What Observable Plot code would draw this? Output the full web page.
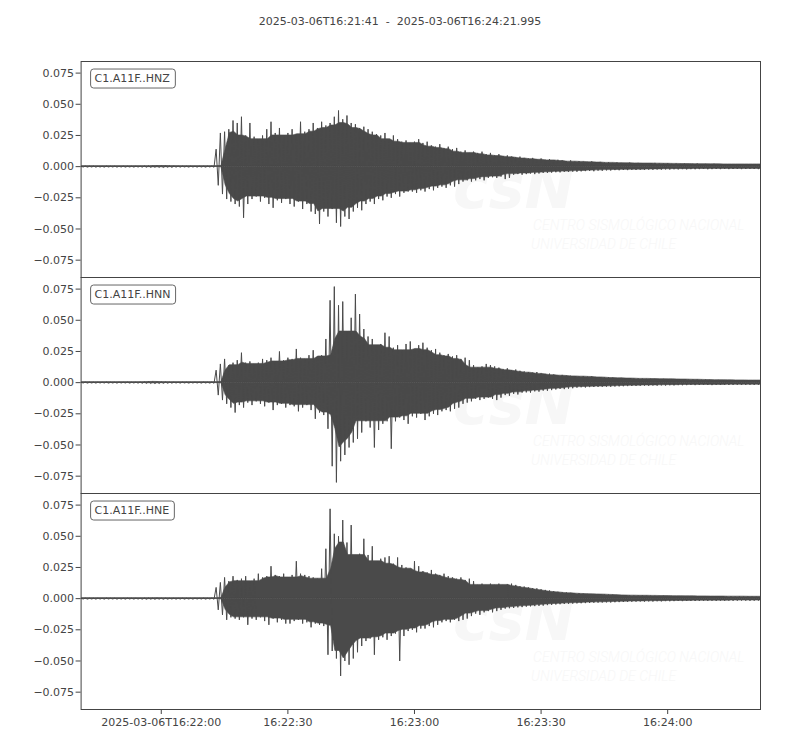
<!DOCTYPE html>
<html>
<head>
<meta charset="utf-8">
<script src="https://cdn.jsdelivr.net/npm/d3@7"></script>
<script src="https://cdn.jsdelivr.net/npm/@observablehq/plot@0.6"></script>
<style>
  body { margin: 0; background: #fff; font-family: "DejaVu Sans", sans-serif; }
  #title { width: 800px; height: 40px; line-height: 44px; text-align: center; font-size: 11px; color: #444; white-space: pre; }
  #chart { width: 800px; }
</style>
</head>
<body>
<div id="title"></div>
<div id="chart"></div>
<script>
// ---------------- data ----------------
const titleText = "2025-03-06T16:21:41  -  2025-03-06T16:24:21.995";
const startTime = "2025-03-06T16:21:41Z";
const endTime = "2025-03-06T16:24:21.995Z";
const netCode = "C1", staCode = "A11F", locCode = "";
const channels = ["HNZ", "HNN", "HNE"];
const valueUnit = 0.001; // arrays below are in thousandths (m/s)
// per-second upper (hi) and lower (lo) peak of each trace, t = 0 .. 161 s
const hnzHi = [0.3,0.4,0.3,0.4,0.3,0.3,0.4,0.3,0.4,0.3,0.4,0.3,0.3,0.4,0.3,0.5,0.6,0.5,0.7,0.6,0.5,0.6,0.5,0.4,0.4,0.3,0.4,0.3,0.4,0.3,0.4,0.5,
  14,27,28,30,37,35,40,25,35,24,22,25,30,36,27,31,25,27,30,26,36,28,30,35,31,36,33,35,40,45,38,41,35,34,31,32,30,28,26,25,27,22,25,22,20,21,19,20,22,
  19,20,17,16,18,15,16,14,15,12,13,11,12,11,12,10,11,9,10,8.5,9,8,7.5,8,7,6.5,7,6,6.5,5.5,6,5,5.5,5,4.5,5,4,4.5,4,3.8,4.2,3.5,3.8,3.3,3.5,3,3.4,3,2.8,3.2,2.7,3,2.6,2.8,2.5,3,2.5,2.4,2.7,2.3,2.5,2.2,2.4,2.1,2.3,2.5,2,2.2,2,2.3,1.9,2.1,2,1.8,2.1,1.9,2,1.8,2,1.9,1.8];
const hnzLo = [-0.3,-0.4,-0.3,-0.4,-0.3,-0.4,-0.3,-0.3,-0.4,-0.3,-0.4,-0.3,-0.4,-0.3,-0.4,-0.5,-0.6,-0.5,-0.6,-0.7,-0.5,-0.6,-0.4,-0.4,-0.3,-0.4,-0.3,-0.4,-0.3,-0.4,-0.3,-0.5,
  -15,-22,-26,-28,-30,-32,-41,-30,-26,-24,-28,-25,-30,-33,-27,-29,-26,-30,-32,-28,-34,-30,-36,-38,-46,-36,-40,-34,-45,-48,-40,-42,-36,-33,-35,-30,-28,-30,-26,-27,-24,-25,-22,-24,-21,-20,-20,-21,-19,
  -20,-18,-19,-17,-16,-17,-15,-16,-14,-12,-11,-12,-11,-10,-11,-9,-8.5,-9,-8,-10,-9,-6.5,-6,-6.5,-6,-5.5,-6,-5.5,-5,-5,-4.8,-4.5,-4.6,-4.2,-4.3,-4,-4.1,-3.8,-3.6,-3.5,-3.7,-3.2,-3.3,-3,-3.1,-2.8,-2.9,-2.7,-2.8,-2.6,-2.7,-2.5,-2.6,-2.4,-2.5,-2.3,-2.4,-2.2,-2.3,-2.1,-2.2,-2,-2.2,-2,-2.1,-2,-1.9,-2.1,-2,-1.9,-2,-1.8,-2,-1.9,-1.8,-2,-1.9,-1.8,-1.9,-2,-1.8];
const hnnHi = [0.3,0.4,0.3,0.3,0.4,0.3,0.4,0.3,0.3,0.4,0.3,0.4,0.3,0.4,0.5,0.6,0.7,0.8,0.7,0.6,0.5,0.4,0.4,0.3,0.4,0.3,0.3,0.4,0.3,0.4,0.3,0.5,
  10,15,19,14,16,18,24,16,17,15,16,19,18,20,17,25,18,20,19,27,20,19,22,26,21,22,35,66,77,62,65,41,52,71,55,43,37,35,30,31,40,37,28,30,26,31,33,27,30,
  32,28,26,27,24,22,23,21,22,19,20,18,14,12,13,15,14,13,12,11,11.5,10,10.5,9.5,9,8.5,8,8.5,7.5,7,7.2,6.5,6,6.2,5.6,5.5,5.3,5,5.2,4.8,5,4.6,4.5,4.2,4.3,4,3.7,3.8,3.5,3.6,3.3,3.4,3.2,3,3.1,3,2.9,3,2.8,2.9,2.7,2.8,2.6,2.5,2.6,2.4,2.3,2.4,2.2,2.1,2.2,2,2.1,2,1.9,2,1.8,1.9,1.8,1.7,1.8];
const hnnLo = [-0.3,-0.4,-0.3,-0.4,-0.3,-0.3,-0.4,-0.3,-0.4,-0.3,-0.3,-0.4,-0.3,-0.4,-0.5,-0.6,-0.7,-0.8,-0.7,-0.6,-0.5,-0.4,-0.3,-0.4,-0.3,-0.4,-0.3,-0.3,-0.4,-0.3,-0.4,-0.5,
  -10,-14,-17,-20,-24,-18,-20,-16,-18,-15,-17,-19,-16,-22,-18,-17,-20,-18,-19,-23,-20,-18,-22,-29,-24,-26,-37,-67,-80,-63,-58,-52,-48,-45,-40,-31,-36,-52,-38,-33,-31,-53,-31,-28,-30,-33,-27,-28,-25,
  -30,-27,-25,-26,-23,-22,-23,-21,-20,-17,-16,-15,-13,-14,-13,-12,-13,-14,-12,-10,-10.5,-9,-9.5,-8,-7.8,-8,-7,-7.2,-6.4,-6.5,-6,-5.5,-5,-5.2,-4.8,-4.5,-4,-3.7,-3.9,-3.6,-3.5,-3.4,-3.3,-3.2,-3.3,-3.1,-3,-2.9,-2.8,-2.7,-2.6,-2.5,-2.4,-2.5,-2.3,-2.4,-2.2,-2.3,-2.1,-2.2,-2,-2.1,-2,-1.9,-2,-1.9,-1.8,-1.9,-2,-1.8,-1.9,-1.8,-1.9,-1.8,-1.7,-1.9,-1.8,-1.7,-1.8,-1.7,-1.8];
const hneHi = [0.3,0.4,0.3,0.3,0.4,0.3,0.4,0.3,0.4,0.3,0.3,0.4,0.3,0.4,0.3,0.4,0.5,0.4,0.5,0.4,0.4,0.3,0.4,0.3,0.4,0.3,0.3,0.4,0.3,0.4,0.3,0.5,
  9,13,17,14,18,15,16,18,14,16,20,17,18,26,19,18,20,17,19,30,20,19,18,17,16,24,40,72,52,50,63,45,59,35,36,48,35,42,30,32,33,34,28,33,27,25,24,30,26,
  22,21,23,20,19,20,18,17,16,17,15,16,14,11,12,11,12,11,12,11,11.5,12,11,10,9.7,9,8.5,8.2,7.5,7,6.5,6,5.5,5.2,5,4.6,4.3,4.5,4,3.8,3.7,3.6,3.5,3.4,3.3,3.2,3,2.9,2.8,2.6,2.5,2.4,2.5,2.3,2.4,2.3,2.2,2.3,2.1,2.2,2.1,2,2.1,2,1.9,2,1.9,1.8,1.9,1.8,1.7,1.8,1.7,1.8,1.6,1.7,1.6,1.7,1.6,1.5,1.6];
const hneLo = [-0.3,-0.4,-0.3,-0.4,-0.3,-0.4,-0.3,-0.3,-0.4,-0.3,-0.4,-0.3,-0.4,-0.3,-0.4,-0.5,-0.4,-0.5,-0.4,-0.5,-0.4,-0.3,-0.4,-0.3,-0.4,-0.3,-0.4,-0.3,-0.3,-0.4,-0.3,-0.5,
  -9,-13,-17,-15,-16,-17,-15,-21,-16,-17,-15,-18,-21,-16,-19,-17,-20,-20,-18,-17,-20,-19,-23,-20,-21,-22,-45,-42,-48,-62,-50,-53,-48,-43,-38,-34,-32,-45,-33,-31,-33,-30,-28,-50,-30,-26,-25,-27,-24,
  -24,-22,-23,-21,-19,-18,-19,-17,-18,-17,-16,-14,-12,-13,-11,-10,-11,-10,-9,-8,-7.7,-7.5,-7,-6.8,-6.4,-6.2,-6,-5.8,-5.6,-5.2,-5,-4.7,-4.5,-4.3,-4.2,-4,-3.8,-3.7,-3.6,-3.5,-3.3,-3.2,-3.1,-3,-3.1,-2.9,-2.8,-2.7,-2.6,-2.5,-2.4,-2.3,-2.4,-2.2,-2.3,-2.1,-2.2,-2,-2.1,-2,-1.9,-2,-1.9,-1.8,-1.9,-1.8,-1.7,-1.8,-1.7,-1.8,-1.6,-1.7,-1.6,-1.7,-1.6,-1.5,-1.6,-1.7,-1.6,-1.5,-1.6];
const yDomain = [-0.0889, 0.0843];
const yTicks = [-0.075, -0.05, -0.025, 0, 0.025, 0.05, 0.075];
const xTickTimes = ["2025-03-06T16:22:00Z", "2025-03-06T16:22:30Z", "2025-03-06T16:23:00Z", "2025-03-06T16:23:30Z", "2025-03-06T16:24:00Z"];
const xTickLabels = ["2025-03-06T16:22:00", "16:22:30", "16:23:00", "16:23:30", "16:24:00"];
const watermarkTitle = "csN";
const watermarkLine1 = "CENTRO SISMOLÓGICO NACIONAL";
const watermarkLine2 = "UNIVERSIDAD DE CHILE";

// ---------------- build ----------------
document.getElementById("title").textContent = titleText;
const t0 = new Date(startTime).getTime();
const traces = { HNZ: [hnzHi, hnzLo], HNN: [hnnHi, hnnLo], HNE: [hneHi, hneLo] };
const samples = [];   // alternating peak / trough, drawn as the trace line
const perSecond = []; // per-second peaks, used for the filled core of the trace
for (const ch of channels) {
  const [hi, lo] = traces[ch];
  hi.forEach((h, i) => {
    samples.push({ ch, t: new Date(t0 + i * 1000), v: h * valueUnit });
    samples.push({ ch, t: new Date(t0 + (i + 0.5) * 1000), v: lo[i] * valueUnit });
    perSecond.push({ ch, t: new Date(t0 + (i + 0.25) * 1000), hi: h * valueUnit, lo: lo[i] * valueUnit, zero: 0 });
  });
}
const xTicks = xTickTimes.map(d => new Date(d));
const xLabelMap = new Map(xTicks.map((d, i) => [+d, xTickLabels[i]]));
const traceId = ch => `${netCode}.${staCode}.${locCode}.${ch}`;
const wm = "#f7f7f7";
const ink = "#4a4a4a";

const plot = Plot.plot({
  width: 800,
  height: 710,
  marginTop: 20,
  marginBottom: 40,
  marginLeft: 80.6,
  marginRight: 40,
  style: { fontFamily: "DejaVu Sans, sans-serif", fontSize: "11px", color: "#444", background: "#fff" },
  fy: { domain: channels, padding: 0, axis: null, label: null },
  x: {
    type: "utc",
    domain: [new Date(startTime), new Date(endTime)],
    ticks: xTicks,
    tickFormat: d => xLabelMap.get(+d),
    tickSize: 5, tickPadding: 4, label: null
  },
  y: {
    domain: yDomain,
    ticks: yTicks,
    tickFormat: d => (d < 0 ? "\u2212" : "") + Math.abs(d).toFixed(3),
    tickSize: 5, tickPadding: 2, label: null
  },
  marks: [
    Plot.text(channels, { fy: d => d, text: () => watermarkTitle, frameAnchor: "top-left", dx: 372, dy: 146, textAnchor: "start", lineAnchor: "bottom", fontSize: 60, fontWeight: "bold", fontStyle: "italic", fill: wm }),
    Plot.text(channels, { fy: d => d, text: () => watermarkLine1, frameAnchor: "top-left", dx: 452, dy: 164, textAnchor: "start", lineAnchor: "middle", fontSize: 14, fontWeight: 300, fontStyle: "italic", fontFamily: "Roboto, DejaVu Sans", fill: wm }),
    Plot.text(channels, { fy: d => d, text: () => watermarkLine2, frameAnchor: "top-left", dx: 450, dy: 183, textAnchor: "start", lineAnchor: "middle", fontSize: 14, fontWeight: 300, fontStyle: "italic", fontFamily: "Roboto, DejaVu Sans", fill: wm }),
    Plot.areaY(perSecond, Plot.windowY({ k: 5, reduce: "min" }, { x: "t", y1: "zero", y2: "hi", z: "ch", fy: "ch", fill: ink, stroke: ink, strokeWidth: 0.6, clip: true })),
    Plot.areaY(perSecond, Plot.windowY({ k: 5, reduce: "max" }, { x: "t", y1: "lo", y2: "zero", z: "ch", fy: "ch", fill: ink, stroke: ink, strokeWidth: 0.6, clip: true })),
    Plot.line(samples, { x: "t", y: "v", z: "ch", fy: "ch", stroke: ink, strokeWidth: 1.0, clip: true }),
    Plot.frame({ stroke: "#444", strokeWidth: 1 }),
    Plot.text(channels, { fy: d => d, text: d => traceId(d), frameAnchor: "top-left", dx: 13.5, dy: 17, textAnchor: "start", lineAnchor: "middle", fill: "#444", fontSize: 11 })
  ]
});
document.getElementById("chart").append(plot);

// rounded boxes behind the trace labels
plot.querySelectorAll("text").forEach(t => {
  if (!channels.some(ch => t.textContent === traceId(ch))) return;
  const b = t.getBBox();
  const r = document.createElementNS("http://www.w3.org/2000/svg", "rect");
  r.setAttribute("x", b.x - 4);
  r.setAttribute("y", b.y - 3);
  r.setAttribute("width", b.width + 9);
  r.setAttribute("height", b.height + 6);
  r.setAttribute("rx", 3);
  r.setAttribute("fill", "#fff");
  r.setAttribute("stroke", "#666");
  r.setAttribute("stroke-width", 1);
  if (t.getAttribute("transform")) r.setAttribute("transform", t.getAttribute("transform"));
  t.parentNode.insertBefore(r, t);
});
</script>
</body>
</html>
